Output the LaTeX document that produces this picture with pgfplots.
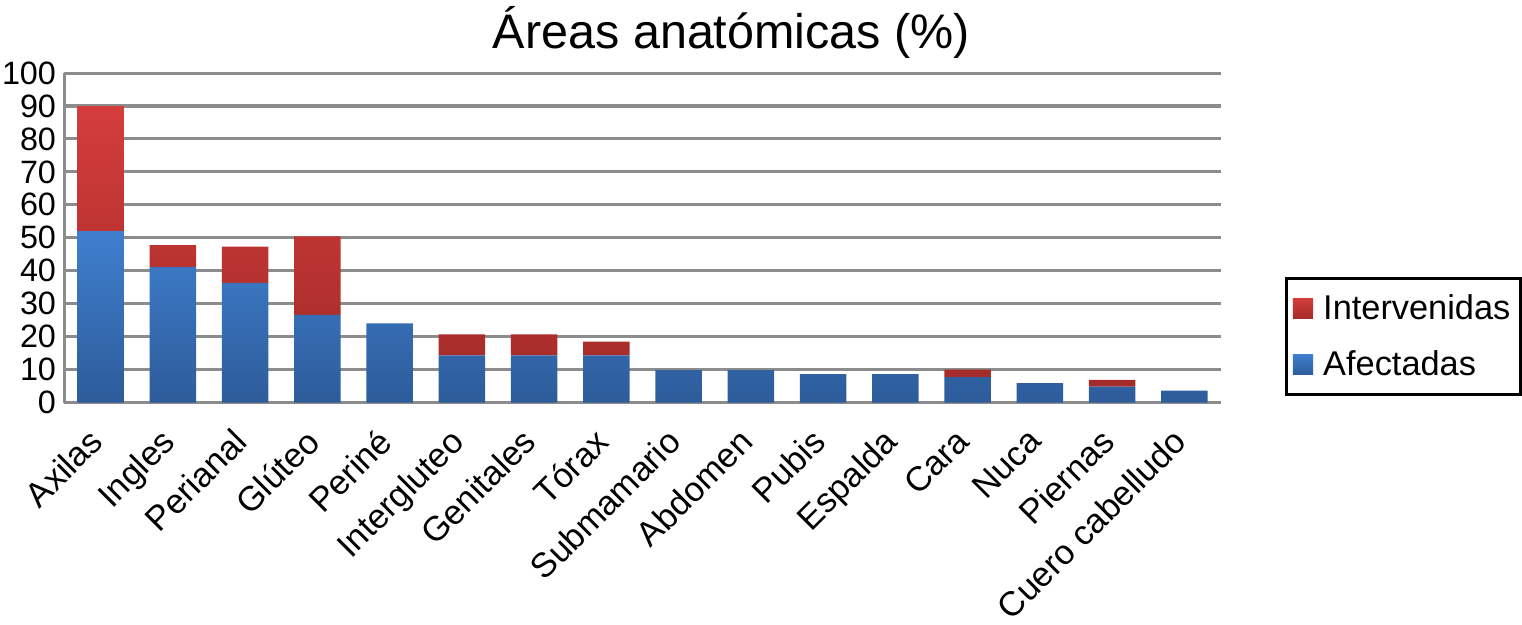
\documentclass[border=0pt]{standalone}
\usepackage{pgfplots}
\usepackage{pgfplotstable}
\pgfplotsset{compat=1.18}
\usepackage{fontspec}
\setmainfont{Liberation Sans}

\definecolor{bluetop}{HTML}{3F7FCF}
\definecolor{bluebot}{HTML}{2D5C9A}
\definecolor{redtop}{HTML}{D43D3B}
\definecolor{redbot}{HTML}{A32B29}
\definecolor{gridgray}{HTML}{8C8C8C}

% afectadas = blue part, interv = red part stacked on top
\pgfplotstableread{
x  afect interv
0  52.0  38.0
1  41.1  6.7
2  36.3  11.0
3  26.6  23.8
4  24.0  0
5  14.3  6.4
6  14.3  6.4
7  14.3  4.2
8  9.8   0
9  9.8   0
10 8.6   0
11 8.6   0
12 7.7   2.3
13 5.9   0
14 4.8   2.1
15 3.6   0
}\datatable

\begin{document}
\begin{tikzpicture}
\begin{axis}[
    scale only axis,
    width=572pt, height=163pt,
    ybar stacked, bar width=23pt,
    xmin=-0.5, xmax=15.5, ymin=0, ymax=100,
    xtick={0,...,15},
    xticklabels={Axilas, Ingles, Perianal, Glúteo, Periné, Intergluteo, Genitales, Tórax, Submamario, Abdomen, Pubis, Espalda, Cara, Nuca, Piernas, Cuero cabelludo},
    ytick={0,10,...,100},
    ymajorgrids,
    grid style={gridgray, line width=1.5pt},
    axis x line*=bottom, axis y line*=left,
    axis line style={-, gridgray, line width=1.5pt},
    major tick length=0pt,
    /pgf/number format/assume math mode=true,
    tick label style={font=\fontsize{16}{16}\selectfont},
    yticklabel style={inner sep=1pt, xshift=-3pt},
    xticklabel style={font=\fontsize{17}{17}\selectfont, rotate=45, anchor=north east, inner sep=1pt, xshift=-12pt, yshift=-2.5pt},
    title={Áreas anatómicas (\%)},
    title style={font=\fontsize{24}{28}\selectfont, at={(0.577,1)}, anchor=base, yshift=6pt},
    legend style={at={(1.056,0.2)}, anchor=west, draw=black, line width=1.5pt,
        font=\fontsize{17}{20}\selectfont, row sep=10pt, inner xsep=3pt, inner ysep=6pt},
    legend cell align=left,
    reverse legend,
    legend image code/.code={\fill[#1] (0pt,-5pt) rectangle (10pt,5pt); \path (0pt,0pt) -- (13pt,0pt);},
]
\addplot[draw=none, top color=bluetop, bottom color=bluebot] table[x=x, y=afect] {\datatable};
\addplot[draw=none, top color=redtop, bottom color=redbot] table[x=x, y=interv] {\datatable};
\legend{Afectadas, Intervenidas}
\end{axis}
\end{tikzpicture}
\end{document}
